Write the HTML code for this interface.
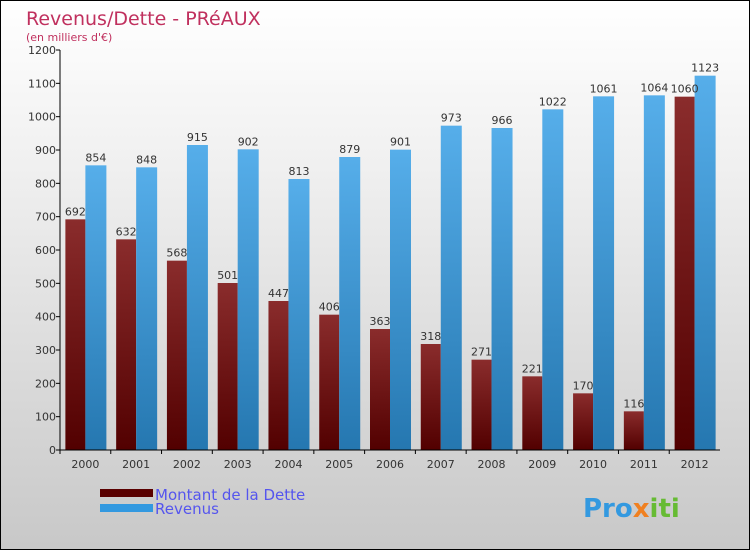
<!DOCTYPE html>
<html><head><meta charset="utf-8"><style>
body{margin:0}
#c{position:relative;width:748px;height:548px;border:1px solid #000;background:linear-gradient(#fff,#f0f0f0 30%,#c8c8c8);font-family:"DejaVu Sans","Liberation Sans",sans-serif;overflow:hidden}
svg text{font-family:"DejaVu Sans","Liberation Sans",sans-serif}
</style></head><body>
<div id="c">
<svg id="s" width="748" height="548">
<defs>
<linearGradient id="gd" x1="0" y1="0" x2="0" y2="1"><stop offset="0" stop-color="#8a2c2c"/><stop offset="1" stop-color="#520000"/></linearGradient>
<linearGradient id="gr" x1="0" y1="0" x2="0" y2="1"><stop offset="0" stop-color="#56aeea"/><stop offset="1" stop-color="#2577b0"/></linearGradient>
</defs>
<text x="25" y="24" font-size="19" fill="#c0305e">Revenus/Dette - PRéAUX</text>
<text x="25" y="40" font-size="11" fill="#c0305e">(en milliers d'€)</text>
<g id="g"></g>
<rect x="99" y="488" width="53" height="8" fill="#5a0000"/>
<rect x="99" y="503" width="53" height="8" fill="#3399e0"/>
<text x="154" y="499" font-size="15" fill="#5555ee">Montant de la Dette</text>
<text x="154" y="513" font-size="15" fill="#5555ee">Revenus</text>
<text x="582" y="516" font-size="26" font-weight="bold" fill="#3399e0">Pro<tspan fill="#f08020">x</tspan><tspan fill="#66bb33">iti</tspan></text>
</svg>
</div>
<script>
const years=["2000","2001","2002","2003","2004","2005","2006","2007","2008","2009","2010","2011","2012"];
const dette=[692,632,568,501,447,406,363,318,271,221,170,116,1060];
const revenus=[854,848,915,902,813,879,901,973,966,1022,1061,1064,1123];
const ticks=[0,100,200,300,400,500,600,700,800,900,1000,1100,1200];
const ns="http://www.w3.org/2000/svg",g=document.getElementById('g');
const L=59,R=719,T=49,B=449,max=1200,bw=(R-L)/years.length;
const y=v=>B-v/max*(B-T), x=i=>L+i*bw;
function mk(t,a,txt){const e=document.createElementNS(ns,t);for(const k in a)e.setAttribute(k,a[k]);if(txt!==undefined)e.textContent=txt;g.appendChild(e);return e;}
years.forEach((yr,i)=>{
 const c=x(i)+bw/2;
 let r=mk('rect',{x:c-20,y:y(dette[i]),width:20,height:B-y(dette[i]),fill:'url(#gd)'});
 
 
 r=mk('rect',{x:c,y:y(revenus[i]),width:21,height:B-y(revenus[i]),fill:'url(#gr)'});
 
 
 let t=mk('text',{x:c-10,y:y(dette[i])-4,'font-size':11,fill:'#333','text-anchor':'middle'},dette[i]);
 
 
 t=mk('text',{x:c+10.5,y:y(revenus[i])-4,'font-size':11,fill:'#333','text-anchor':'middle'},revenus[i]);
 
 
 t=mk('text',{x:c,y:467,'font-size':11,fill:'#333','text-anchor':'middle'},yr);
 
 
 mk('line',{x1:x(i),x2:x(i),y1:B,y2:B+4,stroke:'#000'});
});
ticks.forEach(v=>{
 mk('line',{x1:L-4,x2:L,y1:y(v),y2:y(v),stroke:'#000'});
 const t=mk('text',{x:L-4,y:y(v)+4,'font-size':11,fill:'#333','text-anchor':'end'},v);
 
 
});
let a=mk('line',{x1:L,x2:L,y1:T,y2:B,stroke:'#000'});


a=mk('line',{x1:L,x2:R,y1:B,y2:B,stroke:'#000'});


</script>
</body></html>
